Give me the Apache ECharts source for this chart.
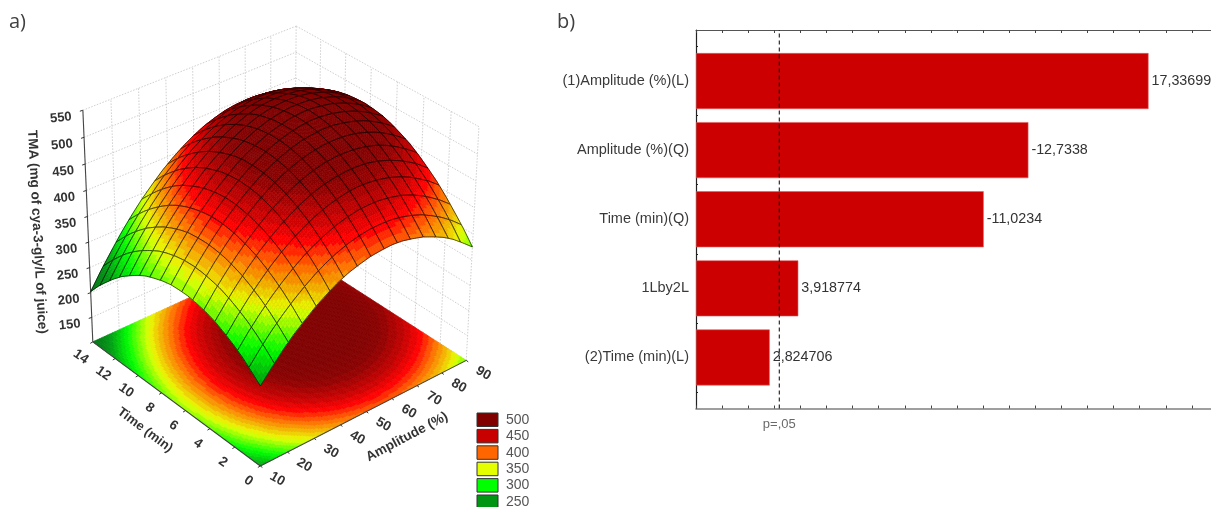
<!DOCTYPE html>
<html><head><meta charset="utf-8">
<style>html,body{margin:0;padding:0;background:#fff}#c{width:1211px;height:507px}</style>
<script src="https://cdn.jsdelivr.net/npm/echarts@6/dist/echarts.min.js"></script>
</head><body><div id="c"></div>
<script>
// ---- panel a) axis ticks
const amplitudeTicks = [10,20,30,40,50,60,70,80,90];
const timeTicks = [0,2,4,6,8,10,12,14];
const tmaTicks = [150,200,250,300,350,400,450,500,550];
const legendLevels = [500,450,400,350,300,250];
const legendColors = ['#800000','#c80000','#ff6600','#e6ff00','#00ff00','#009614'];
// ---- panel a) surface heights, one list per time step (0 to 14 min), amplitude 10 to 90 %
const zT00=[255,279,302,322,339,355,368,380,389,395,400,402,403,401,396,390,381,371,358,342,325];
const zT01=[271,296,319,339,357,373,387,399,408,415,420,423,423,422,418,412,404,393,381,366,349];
const zT02=[286,311,334,355,373,389,404,415,425,433,438,441,442,441,437,432,424,414,401,387,370];
const zT03=[298,324,347,368,387,404,418,430,440,448,454,458,459,458,455,450,442,432,420,406,390];
const zT04=[308,334,358,379,399,416,431,443,454,462,468,472,474,473,470,465,458,449,437,424,408];
const zT05=[317,343,367,389,409,426,441,454,465,474,480,484,486,486,484,479,472,463,452,439,423];
const zT06=[323,350,374,396,416,434,450,463,474,483,490,495,497,497,495,491,485,476,465,452,437];
const zT07=[327,354,379,402,422,440,456,470,482,491,498,503,506,506,505,501,495,487,476,463,449];
const zT08=[330,357,382,405,426,444,461,475,487,496,504,509,512,513,512,509,503,495,485,473,458];
const zT09=[330,358,383,407,428,447,463,478,490,500,508,514,517,519,518,514,509,502,492,480,466];
const zT10=[329,357,382,406,428,447,464,479,491,502,510,516,520,522,521,518,513,506,497,485,472];
const zT11=[325,353,380,404,425,445,462,478,491,501,510,516,521,523,523,520,516,509,500,489,475];
const zT12=[319,348,375,399,421,441,459,475,488,499,508,515,519,522,522,520,516,509,501,490,477];
const zT13=[312,341,368,392,415,435,453,469,483,495,504,511,516,519,519,518,514,508,500,489,476];
const zT14=[302,331,359,384,407,427,446,462,476,488,498,506,511,514,515,514,510,504,497,486,474];
const zT15=[290,320,348,373,397,418,437,453,468,480,490,498,504,507,508,507,504,499,491,482,470];
const zT16=[277,307,335,361,384,406,425,442,457,470,480,488,494,498,500,499,496,492,484,475,463];
const zT17=[261,292,320,346,370,392,412,429,444,457,468,477,483,487,489,489,487,482,475,466,455];
const zT18=[243,274,303,330,354,376,396,414,430,443,454,463,470,474,477,477,475,471,464,456,445];
const zT19=[224,255,284,311,336,358,379,397,413,427,438,447,455,459,462,463,461,457,451,443,432];
const zT20=[202,234,263,291,316,339,359,378,394,408,420,430,437,443,446,447,445,442,436,428,418];
const zRows=[zT00,zT01,zT02,zT03,zT04,zT05,zT06,zT07,zT08,zT09,zT10,zT11,zT12,zT13,zT14,zT15,zT16,zT17,zT18,zT19,zT20];
// ---- panel b)
const effectNames = ['(1)Amplitude (%)(L)','Amplitude (%)(Q)','Time (min)(Q)','1Lby2L','(2)Time (min)(L)'];
const effectValues = [17.33699,-12.7338,-11.0234,3.918774,2.824706];
const effectLabels = ['17,33699','-12,7338','-11,0234','3,918774','2,824706'];
const pLimit = 3.19;
const pLabel = 'p=,05';

// ---- 3D projection of the box (A,T,z) on the flat helper axes of panel a)
const AMIN=10,AMAX=90,TMIN=0,TMAX=14,ZMIN=100,ZMAX=550,NROW=20,NMESH=16;
function fitCamera(){
  const refs=[[0,0,0,260,466],[0,1,0,93,342],[1,0,0,466.5,360],[1,1,0,294,250],[0,1,1,83,110],[1,1,1,296,26],[1,0,1,479,127]];
  const n=11,N=[],R=new Array(n).fill(0);
  for(let i=0;i<n;i++)N.push(new Array(n).fill(0));
  function add(r,b){for(let i=0;i<n;i++){R[i]+=r[i]*b;for(let j=0;j<n;j++)N[i][j]+=r[i]*r[j];}}
  refs.forEach(p=>{const [u,v,w,X,Y]=p,x=X/500,y=Y/500;
    add([u,v,w,1,0,0,0,0,-x*u,-x*v,-x*w],x);
    add([0,0,0,0,u,v,w,1,-y*u,-y*v,-y*w],y);});
  for(let i=0;i<n;i++){let m=i;for(let k=i+1;k<n;k++)if(Math.abs(N[k][i])>Math.abs(N[m][i]))m=k;
    [N[i],N[m]]=[N[m],N[i]];[R[i],R[m]]=[R[m],R[i]];
    for(let k=i+1;k<n;k++){const f=N[k][i]/N[i][i];for(let j=i;j<n;j++)N[k][j]-=f*N[i][j];R[k]-=f*R[i];}}
  const s=new Array(n).fill(0);
  for(let i=n-1;i>=0;i--){let t=R[i];for(let j=i+1;j<n;j++)t-=N[i][j]*s[j];s[i]=t/N[i][i];}
  return s;
}
const cam=fitCamera();
function proj(A,T,z){
  const u=(A-AMIN)/(AMAX-AMIN),v=(T-TMIN)/(TMAX-TMIN),w=(z-ZMIN)/(ZMAX-ZMIN);
  const d=cam[8]*u+cam[9]*v+cam[10]*w+1;
  return [500*(cam[0]*u+cam[1]*v+cam[2]*w+cam[3])/d,500*(cam[4]*u+cam[5]*v+cam[6]*w+cam[7])/d];
}
const stops=[[200,[0,110,20]],[250,[0,150,20]],[300,[0,255,0]],[350,[230,255,0]],[400,[255,100,0]],[425,[255,0,0]],[450,[195,0,0]],[480,[138,0,0]],[500,[128,0,0]]];
function band(z){
  const q=Math.floor(z/10)*10+5;
  if(q>=500)return 'rgb(128,0,0)';
  for(let i=0;i<stops.length-1;i++){const a=stops[i],b=stops[i+1];
    if(q<=b[0]){const f=Math.max(0,(q-a[0])/(b[0]-a[0]));
      return 'rgb('+[0,1,2].map(k=>Math.round(a[1][k]+(b[1][k]-a[1][k])*f)).join(',')+')';}}
  return 'rgb(128,0,0)';
}
// height of the surface between the listed readings
function heightAt(A,T){
  const x=Math.min(NROW-1e-6,(A-AMIN)/(AMAX-AMIN)*NROW),y=Math.min(NROW-1e-6,(T-TMIN)/(TMAX-TMIN)*NROW);
  const i=Math.floor(x),j=Math.floor(y),fa=x-i,ft=y-j,r0=zRows[j],r1=zRows[j+1];
  return (r0[i]*(1-fa)+r0[i+1]*fa)*(1-ft)+(r1[i]*(1-fa)+r1[i+1]*fa)*ft;
}
const cells=[];
for(let j=NMESH-1;j>=0;j--)for(let i=NMESH-1;i>=0;i--)cells.push([i,j]);

function cellItem(params,api,onFloor){
  const i=api.value(0),j=api.value(1),SUB=onFloor?8:6,kids=[];
  const da=(AMAX-AMIN)/NMESH,dt=(TMAX-TMIN)/NMESH,A0=AMIN+i*da,T0=TMIN+j*dt;
  const P=(fa,ft)=>{const A=A0+da*fa,T=T0+dt*ft;return api.coord(proj(A,T,onFloor?ZMIN:heightAt(A,T)));};
  for(let b=SUB-1;b>=0;b--)for(let a=SUB-1;a>=0;a--){
    const f0=a/SUB,f1=(a+1)/SUB,g0=b/SUB,g1=(b+1)/SUB,c=band(heightAt(A0+da*(f0+f1)/2,T0+dt*(g0+g1)/2));
    kids.push({type:'polygon',shape:{points:[P(f0,g0),P(f1,g0),P(f1,g1),P(f0,g1)]},style:{fill:c,stroke:c,lineWidth:0.6}});
  }
  if(!onFloor){
    const pts=[];
    for(let k=0;k<=SUB;k++)pts.push(P(k/SUB,0));
    for(let k=1;k<=SUB;k++)pts.push(P(1,k/SUB));
    for(let k=SUB-1;k>=0;k--)pts.push(P(k/SUB,1));
    for(let k=SUB-1;k>=0;k--)pts.push(P(0,k/SUB));
    kids.push({type:'polyline',shape:{points:pts},style:{fill:null,stroke:'rgba(0,0,0,0.8)',lineWidth:0.8}});
  }
  return {type:'group',children:kids};
}

// wall grid
const wallLines=[];
const wallZ=tmaTicks.concat([ZMIN]);
wallZ.forEach(z=>{wallLines.push([AMIN,TMAX,z,AMAX,TMAX,z]);wallLines.push([AMAX,TMAX,z,AMAX,TMIN,z]);});
amplitudeTicks.slice(1).forEach(A=>wallLines.push([A,TMAX,ZMIN,A,TMAX,ZMAX]));
timeTicks.slice(0,-1).forEach(T=>wallLines.push([AMAX,T,ZMIN,AMAX,T,ZMAX]));
// axis lines
const axisLines=[[AMIN,TMAX,ZMIN,AMIN,TMAX,ZMAX],[AMIN,TMIN,ZMIN,AMIN,TMAX,ZMIN],[AMIN,TMIN,ZMIN,AMAX,TMIN,ZMIN]];
// texts
const textItems=[];
const FONT='"Liberation Sans",Arial,sans-serif';
const rad=d=>d*Math.PI/180;
amplitudeTicks.forEach(A=>textItems.push({at:proj(A,TMIN,ZMIN),dx:17,dy:13,rot:-30,text:String(A),font:'bold 13.5px '+FONT}));
timeTicks.forEach(T=>textItems.push({at:proj(AMIN,T,ZMIN),dx:-12,dy:15,rot:-35,text:String(T),font:'bold 13.5px '+FONT}));
tmaTicks.forEach(z=>textItems.push({at:proj(AMIN,TMAX,z),dx:-22,dy:7.5,rot:6,text:String(z),font:'bold 13px '+FONT}));
textItems.push({at:[145,430],dx:0,dy:0,rot:-37,text:'Time (min)',font:'bold 13px '+FONT});
textItems.push({at:[407,437],dx:0,dy:0,rot:28,text:'Amplitude (%)',font:'bold 13.5px '+FONT});
textItems.push({at:[37,232],dx:0,dy:0,rot:-87,text:'TMA (mg of cya-3-gly/L of juice)',font:'bold 13.5px '+FONT});

const overlay={xAxisIndex:3,yAxisIndex:3,silent:true,animation:false,clip:false,progressive:0,coordinateSystem:'cartesian2d',z:5};
const series=[
 {type:'bar',xAxisIndex:2,yAxisIndex:1,data:effectValues.map(Math.abs),barWidth:56,silent:true,animation:false,
  itemStyle:{color:'#cc0000',borderColor:'#e06060',borderWidth:0.6},
  label:{show:true,position:'right',distance:3,fontFamily:FONT,fontSize:14.3,color:'#333',formatter:p=>effectLabels[p.dataIndex]}},
 {type:'line',xAxisIndex:0,yAxisIndex:0,data:[[pLimit,0],[pLimit,1]],symbol:'none',silent:true,animation:false,z:6,
  lineStyle:{color:'#000',width:1,type:[4,3]}},
 {type:'scatter',xAxisIndex:0,yAxisIndex:0,data:[[pLimit,0]],symbolSize:1,itemStyle:{color:'rgba(255,255,255,0)'},silent:true,animation:false,z:6,clip:false,
  label:{show:true,formatter:pLabel,position:'bottom',distance:9,fontFamily:FONT,fontSize:13,color:'#444'}},
 Object.assign({},overlay,{type:'custom',data:wallLines.map((_,i)=>[i]),renderItem(p,api){
   const l=wallLines[api.value(0)],a=api.coord(proj(l[0],l[1],l[2])),b=api.coord(proj(l[3],l[4],l[5]));
   return {type:'line',shape:{x1:a[0],y1:a[1],x2:b[0],y2:b[1]},style:{stroke:'#cfcfcf',lineWidth:1,lineDash:[1.5,1.5]}};}}),
 Object.assign({},overlay,{type:'custom',z:6,data:cells,renderItem(p,api){return cellItem(p,api,true);}}),
 Object.assign({},overlay,{type:'custom',z:7,data:axisLines.map((_,i)=>[i]),renderItem(p,api){
   const l=axisLines[api.value(0)],a=api.coord(proj(l[0],l[1],l[2])),b=api.coord(proj(l[3],l[4],l[5]));
   return {type:'line',shape:{x1:a[0],y1:a[1],x2:b[0],y2:b[1]},style:{stroke:'#444',lineWidth:1.1}};}}),
 Object.assign({},overlay,{type:'custom',z:8,data:cells,renderItem(p,api){return cellItem(p,api,false);}}),
 Object.assign({},overlay,{type:'custom',z:9,data:textItems.map((_,i)=>[i]),renderItem(p,api){
   const t=textItems[api.value(0)],c=api.coord(t.at);
   return {type:'text',x:c[0]+t.dx,y:c[1]+t.dy,rotation:rad(t.rot),style:{text:t.text,font:t.font,fill:'#333',textAlign:'center',textVerticalAlign:'middle'}};}}),
 Object.assign({},overlay,{type:'custom',z:9,data:amplitudeTicks.concat(timeTicks).map((_,i)=>[i]),renderItem(p,api){
   const i=api.value(0),na=amplitudeTicks.length,isA=i<na;
   const pt=isA?proj(amplitudeTicks[i],TMIN,ZMIN):proj(AMIN,timeTicks[i-na],ZMIN);
   const a=api.coord(pt),dx=isA?2:-2.5,dy=1.5;
   return {type:'line',shape:{x1:a[0],y1:a[1],x2:a[0]+dx,y2:a[1]+dy},style:{stroke:'#333',lineWidth:1}};}}),
 Object.assign({},overlay,{type:'custom',z:9,data:tmaTicks.map(v=>[v]),renderItem(p,api){
   const a=api.coord(proj(AMIN,TMAX,api.value(0)));
   return {type:'line',shape:{x1:a[0],y1:a[1],x2:a[0]-3,y2:a[1]+1},style:{stroke:'#333',lineWidth:1}};}}),
 Object.assign({},overlay,{type:'custom',z:9,data:legendLevels.map((_,i)=>[i]),renderItem(p,api){
   const i=api.value(0),c=api.coord([477,413+16.4*i]);
   return {type:'group',children:[
     {type:'rect',shape:{x:c[0],y:c[1],width:21,height:13.5},style:{fill:legendColors[i],stroke:'#333',lineWidth:1}},
     {type:'text',x:c[0]+29,y:c[1]+7,style:{text:String(legendLevels[i]),font:'14px '+FONT,fill:'#555',textAlign:'left',textVerticalAlign:'middle'}}
   ]};}})
];
const plainAxis={axisLabel:{show:false},axisTick:{show:false},axisLine:{show:false},splitLine:{show:false}};
const option={
 backgroundColor:'#fff',animation:false,
 title:[
  {text:'a)',left:4,top:7,textStyle:{fontFamily:'"Open Sans",sans-serif',fontSize:20,fontWeight:'normal',color:'#404040'}},
  {text:'b)',left:552,top:7,textStyle:{fontFamily:'"Open Sans",sans-serif',fontSize:20,fontWeight:'normal',color:'#404040'}}
 ],
 grid:[
  {left:696,top:30,width:515,height:378.5},
  {left:696,top:46.5,width:515,height:345.5},
  {left:0,top:0,width:540,height:507}
 ],
 xAxis:[
  {gridIndex:0,type:'value',position:'bottom',min:0,max:19.73,interval:1,axisLabel:{show:false},splitLine:{show:false},
   axisLine:{show:true,onZero:false,lineStyle:{color:'#808080',width:1.6}},axisTick:{show:true,inside:true,length:3,lineStyle:{color:'#444'}}},
  {gridIndex:0,type:'value',position:'top',min:0,max:19.73,interval:1,axisLabel:{show:false},splitLine:{show:false},
   axisLine:{show:true,onZero:false,lineStyle:{color:'#555',width:1}},axisTick:{show:true,inside:true,length:3,lineStyle:{color:'#444'}}},
  Object.assign({gridIndex:1,type:'value',min:0,max:19.73},plainAxis),
  Object.assign({gridIndex:2,type:'value',min:0,max:540},plainAxis)
 ],
 yAxis:[
  {gridIndex:0,type:'value',min:0,max:1,position:'left',axisLabel:{show:false},axisTick:{show:false},splitLine:{show:false},
   axisLine:{show:true,onZero:false,lineStyle:{color:'#222',width:1.2}}},
  {gridIndex:1,type:'category',position:'left',inverse:true,data:effectNames,
   axisLine:{show:false},axisTick:{show:true,inside:true,alignWithLabel:true,length:3,lineStyle:{color:'#222'}},
   axisLabel:{margin:7,padding:[2,0,0,0],fontFamily:FONT,fontSize:14.5,color:'#3a3a3a'},splitLine:{show:false}},
  {gridIndex:1,type:'category',position:'left',inverse:true,data:effectNames,
   axisLine:{show:false},axisTick:{show:true,inside:true,length:2,lineStyle:{color:'#222'}},
   axisLabel:{show:false},splitLine:{show:false}},
  Object.assign({gridIndex:2,type:'value',min:0,max:507,inverse:true},plainAxis)
 ],
 series
};
const chart=echarts.init(document.getElementById('c'),null,{renderer:'canvas'});
chart.setOption(option);
</script></body></html>
